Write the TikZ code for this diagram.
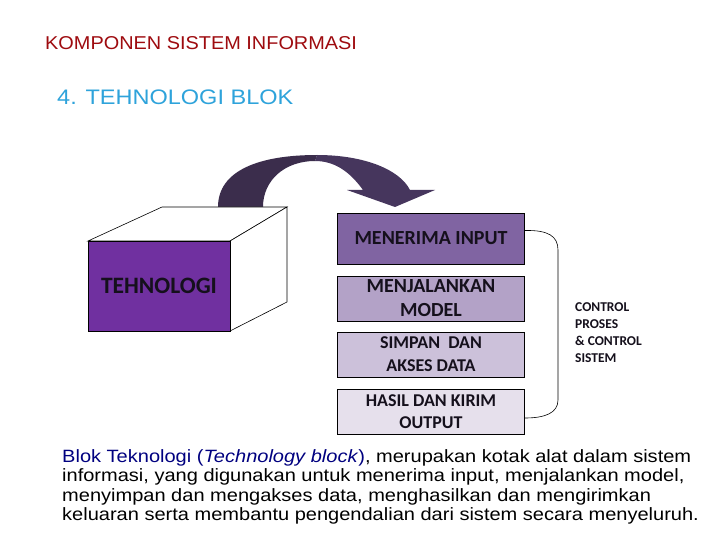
\documentclass[tikz,border=0pt]{standalone}
\usepackage{fontspec}
\setmainfont{Liberation Sans}
\newfontfamily\calfont{Carlito}
\newfontfamily\widesans[FakeStretch=1.125]{Liberation Sans}
\newfontfamily\titlesans[FakeStretch=1.07]{Liberation Sans}
\newfontfamily\subsans[FakeStretch=1.12]{Liberation Sans}
\definecolor{titlered}{HTML}{9E0B0F}
\definecolor{titleblue}{HTML}{2EA3DB}
\definecolor{tpurple}{HTML}{7030A0}
\definecolor{bx1}{HTML}{8064A2}
\definecolor{bx2}{HTML}{B3A2C7}
\definecolor{bx3}{HTML}{CCC1DA}
\definecolor{bx4}{HTML}{E6E0EC}
\definecolor{arrowdark}{HTML}{3B2D4C}
\definecolor{arrowlight}{HTML}{46365D}
\definecolor{navy}{HTML}{000080}
\definecolor{boxtext}{HTML}{15101C}
\begin{document}
\begin{tikzpicture}[x=1pt,y=-1pt,
  stepbox/.style={draw=black,line width=0.8pt,minimum width=187pt,minimum height=45pt,inner sep=1pt,align=center,font=\calfont\bfseries\fontsize{20}{24}\selectfont,text=boxtext},
  edge/.style={draw=black,line width=0.6pt}]
\useasboundingbox (0,0) rectangle (720,540);
\fill[white] (0,0) rectangle (720,540);
% titles
\node[anchor=west,text=titlered,font=\titlesans\fontsize{18.6}{22}\selectfont,inner sep=0pt] (title) at (45,43) {KOMPONEN SISTEM INFORMASI};
\node[anchor=west,text=titleblue,font=\subsans\fontsize{21}{25}\selectfont,inner sep=0pt] (sub) at (57,97) {4. TEHNOLOGI BLOK};
% curved arrow (behind cube): right falling part, then left rising part
\fill[arrowlight] (317,155)
  .. controls (365,155) and (400,170) .. (410,190) -- (435,190) -- (395,207) -- (347,190) -- (363,190)
  .. controls (350,172) and (335,161) .. (315,161) -- cycle;
\fill[arrowdark] (218,207) .. controls (218,170) and (260,155) .. (317,155)
  -- (315,161) .. controls (285,161) and (263,180) .. (263,207) -- cycle;
% cube
\filldraw[fill=white,edge] (88,241) -- (162,207) -- (287,207) -- (230,241) -- cycle;
\filldraw[fill=white,edge] (230,241) -- (287,207) -- (287,302) -- (230,331) -- cycle;
\node[draw=black,line width=0.8pt,fill=tpurple,minimum width=142pt,minimum height=90pt,inner sep=0pt,font=\calfont\bfseries\fontsize{23.5}{28}\selectfont,text=boxtext] (tech) at (159,286) {TEHNOLOGI};
% boxes
\node[stepbox,fill=bx1,minimum height=51pt] (in) at (431,238.5) {MENERIMA INPUT};
\node[stepbox,fill=bx2] (model) at (431,298.5) {MENJALANKAN\\MODEL};
\node[stepbox,fill=bx3,font=\calfont\bfseries\fontsize{18}{23}\selectfont] (data) at (431,354.5) {SIMPAN\ \ DAN\\AKSES DATA};
\node[stepbox,fill=bx4,font=\calfont\bfseries\fontsize{18}{21.5}\selectfont] (out) at (431,411.5) {HASIL DAN KIRIM\\OUTPUT};
% bracket
\coordinate (bt) at ([yshift=8pt]in.east);
\coordinate (bb) at ([yshift=-6.5pt]out.east);
\draw[edge] (bt) .. controls (548,230) and (558,236) .. (558,250) -- (558,400) .. controls (558,413) and (545,418) .. (bb);
\node[anchor=north west,align=left,inner sep=0pt,font=\calfont\bfseries\fontsize{13.5}{17}\selectfont,text=boxtext] (ctrl) at (575,302) {CONTROL\\PROSES\\\&\ CONTROL\\SISTEM};
% paragraph
\node[anchor=north west,align=left,inner sep=0pt,font=\widesans\fontsize{17.8}{19.6}\selectfont] (para) at (62,449)
{\textcolor{navy}{Blok Teknologi (\textit{Technology block})}, merupakan kotak alat dalam sistem\\
informasi, yang digunakan untuk menerima input, menjalankan model,\\
menyimpan dan mengakses data, menghasilkan dan mengirimkan\\
keluaran serta membantu pengendalian dari sistem secara menyeluruh.};
\end{tikzpicture}
\end{document}
